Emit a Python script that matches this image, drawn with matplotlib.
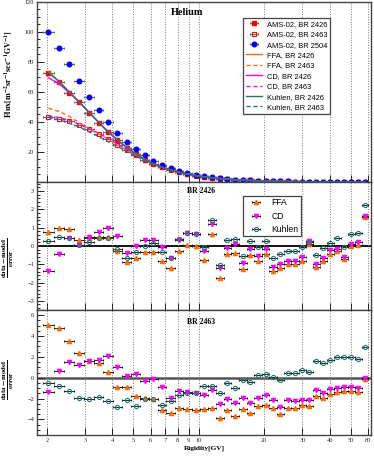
import numpy as np
import matplotlib
matplotlib.use("Agg")
import matplotlib.pyplot as plt
from matplotlib.ticker import FixedLocator, MultipleLocator, NullFormatter

plt.rcParams["font.family"] = "Liberation Serif"
plt.rcParams["mathtext.fontset"] = "stix"

# AMS-02 helium rigidity bins [GV]
edges = [1.92, 2.15, 2.40, 2.67, 2.97, 3.29, 3.64, 4.02, 4.43, 4.88, 5.37, 5.90,
         6.47, 7.09, 7.76, 8.48, 9.26, 10.1, 11.0, 12.0, 13.0, 14.1, 15.3, 16.6,
         18.0, 19.5, 21.1, 22.8, 24.7, 26.7, 28.8, 31.1, 33.5, 36.1, 38.9, 41.9,
         45.1, 48.5, 52.2, 56.1, 60.3]

# measured fluxes [m^-2 sr^-1 s^-1 GV^-1]
flux_2426 = [72.9, 66.8, 59.6, 53.2, 46.1, 39.4, 33.2, 27.8, 22.9, 18.4, 14.8, 12.2,
             10.2, 8.4, 6.8, 5.6, 4.5, 3.6, 2.9, 2.35, 1.9, 1.55, 1.25, 1.02, 0.83,
             0.68, 0.56, 0.46, 0.37, 0.30, 0.25, 0.20, 0.165, 0.135, 0.11, 0.09,
             0.073, 0.06, 0.049, 0.040]
flux_2463 = [43.3, 42.2, 40.4, 38.0, 35.0, 31.8, 28.4, 24.9, 21.4, 18.0, 14.5, 11.8,
             9.7, 7.9, 6.4, 5.2, 4.2, 3.4, 2.78, 2.26, 1.85, 1.5, 1.22, 0.99, 0.81,
             0.66, 0.54, 0.44, 0.36, 0.295, 0.24, 0.197, 0.161, 0.131, 0.107, 0.088,
             0.071, 0.058, 0.047, 0.038]
flux_2504 = [99.8, 89.6, 78.8, 67.1, 56.9, 47.8, 39.9, 32.7, 26.5, 22.1, 17.7, 14.1,
             11.2, 9.0, 7.1, 5.8, 4.7, 3.8, 3.05, 2.45, 2.0, 1.62, 1.3, 1.06, 0.86,
             0.7, 0.57, 0.47, 0.38, 0.31, 0.255, 0.21, 0.17, 0.138, 0.112, 0.092,
             0.075, 0.061, 0.05, 0.041]

# model fluxes
ffa_2426 = [73.6, 67.2, 60.2, 53.4, 46.6, 39.9, 33.7, 28.1, 23.2, 18.9, 15.2, 12.2,
            9.9, 8.0, 6.5, 5.3, 4.3, 3.5, 2.85, 2.32, 1.9, 1.55, 1.26, 1.03, 0.84,
            0.68, 0.56, 0.46, 0.37, 0.30, 0.25, 0.20, 0.165, 0.135, 0.11, 0.09,
            0.073, 0.06, 0.049, 0.04]
ffa_2463 = [49.2, 47.0, 43.8, 39.4, 35.5, 32.0, 28.4, 24.8, 21.3, 17.9, 14.8, 12.0,
            9.7, 7.9, 6.4, 5.2, 4.2, 3.4, 2.78, 2.26, 1.85, 1.5, 1.22, 0.99, 0.81,
            0.66, 0.54, 0.44, 0.36, 0.295, 0.24, 0.197, 0.161, 0.131, 0.107, 0.088,
            0.071, 0.058, 0.047, 0.038]
cd_2426 = [69.5, 65.5, 59.6, 53.2, 46.4, 39.7, 33.5, 28.0, 23.1, 18.8, 15.1, 12.1,
           9.8, 8.0, 6.5, 5.3, 4.3, 3.5, 2.85, 2.32, 1.9, 1.55, 1.26, 1.03, 0.84,
           0.68, 0.56, 0.46, 0.37, 0.30, 0.25, 0.20, 0.165, 0.135, 0.11, 0.09,
           0.073, 0.06, 0.049, 0.04]
cd_2463 = [44.0, 43.0, 41.0, 38.5, 35.5, 32.5, 29.0, 25.3, 21.7, 18.2, 15.0, 12.2,
           9.8, 8.0, 6.5, 5.3, 4.3, 3.45, 2.8, 2.28, 1.86, 1.51, 1.23, 1.0, 0.82,
           0.67, 0.55, 0.45, 0.36, 0.3, 0.245, 0.2, 0.163, 0.133, 0.108, 0.089,
           0.072, 0.059, 0.048, 0.039]
kuhlen_2426 = [73.0, 67.0, 60.0, 53.3, 46.4, 39.6, 33.4, 27.9, 23.0, 18.7, 15.0, 12.1,
               9.8, 8.0, 6.5, 5.3, 4.3, 3.5, 2.85, 2.32, 1.9, 1.55, 1.26, 1.03, 0.84,
               0.68, 0.56, 0.46, 0.37, 0.30, 0.25, 0.20, 0.165, 0.135, 0.11, 0.09,
               0.073, 0.06, 0.049, 0.04]
kuhlen_2463 = [43.0, 41.5, 39.3, 36.6, 33.5, 30.3, 27.0, 23.7, 20.4, 17.3, 14.4, 11.8,
               9.6, 7.8, 6.3, 5.1, 4.1, 3.35, 2.74, 2.23, 1.83, 1.48, 1.2, 0.98, 0.8,
               0.65, 0.53, 0.44, 0.36, 0.29, 0.24, 0.195, 0.16, 0.13, 0.106, 0.087,
               0.07, 0.057, 0.046, 0.037]

# (data-model)/error, BR 2426
res_ffa_2426 = [0.77, 0.97, 0.94, 0.31, 0.43, 0.47, 0.47, -0.27, -0.87, -0.63, -0.33,
                -0.33, -0.84, -1.19, -0.25, 0.05, 0.0, -0.77, 0.68, -1.75, -0.46,
                -0.37, -1.25, -0.5, -0.82, -0.44, -1.38, -1.22, -1.0, -1.0, -0.82,
                0.12, -1.15, -0.82, -0.44, -0.27, -0.72, 0.0, 0.08, 1.6]
res_cd_2426 = [-1.38, -0.46, 0.45, 0.04, 0.5, 0.75, 0.99, 0.52, -0.4, 0.02, 0.31,
               0.3, -0.04, -0.63, 0.31, 0.72, 0.67, -0.26, 1.22, -1.22, -0.1, 0.09,
               -0.91, -0.16, -0.53, -0.16, -1.13, -0.96, -0.8, -0.8, -0.62, 0.27,
               -1.0, -0.66, -0.22, -0.16, -0.6, 0.12, 0.2, 1.66]
res_kuhlen_2426 = [0.25, 0.47, 0.46, 0.03, 0.21, 0.46, 0.46, -0.18, -0.63, -0.33, 0.0,
                   0.18, -0.35, -0.63, 0.39, 0.72, 0.67, -0.08, 1.41, -1.04, 0.3, 0.4,
                   -0.54, 0.26, -0.08, 0.28, -0.67, -0.46, -0.26, -0.26, -0.05, 0.2,
                   -0.5, -0.13, 0.15, 0.42, -0.08, 0.63, 0.72, 2.24]

# (data-model)/error, BR 2463
res_ffa_2463 = [5.1, 4.76, 3.49, 2.36, 1.62, 1.39, 0.58, -0.93, -0.93, -1.74, -1.9,
                -2.06, -3.06, -3.35, -2.9, -2.98, -3.06, -2.96, -2.87, -3.84, -3.13,
                -3.71, -2.96, -3.39, -2.74, -2.64, -2.9, -3.45, -2.87, -2.87, -2.64,
                -2.74, -1.74, -1.9, -1.58, -1.35, -1.26, -1.26, -1.35, -0.16]
res_cd_2463 = [-1.4, 0.62, 1.47, 1.23, 1.62, 1.71, 2.1, 1.07, 0.16, 0.36, -0.29, -0.1,
               -0.93, -1.93, -1.29, -1.38, -1.42, -1.68, -1.19, -2.48, -2.03, -2.42,
               -1.93, -2.42, -1.93, -1.68, -2.16, -2.8, -2.16, -2.22, -2.1, -2.16,
               -1.19, -1.45, -1.13, -1.0, -0.93, -0.93, -1.03, 0.0]
res_kuhlen_2463 = [-0.48, -0.8, -1.29, -1.9, -2.0, -1.84, -2.23, -2.77, -2.1, -2.74,
                   -2.03, -2.03, -2.58, -2.26, -1.68, -1.51, -1.45, -0.8, -0.77, -1.45,
                   -0.48, -1.03, -0.22, -0.42, 0.23, 0.39, 0.1, -0.25, 0.45, 0.45, 0.77,
                   0.58, 1.62, 1.39, 1.71, 1.94, 2.0, 1.94, 1.81, 2.94]

xticks = [2, 3, 4, 5, 6, 7, 8, 9, 10, 20, 30, 40, 50, 60]

lo = np.array(edges[:-1])
hi = np.array(edges[1:])
rig = np.sqrt(lo * hi)
xerr = [rig - lo, hi - rig]

ORANGE = "#ff6a00"
MAGENTA = "#ff00ff"
TEAL = "#1a7a7a"
FRAME = "#444444"

fig = plt.figure(figsize=(3.74, 4.57), dpi=100)
ax1 = fig.add_axes([0.0989, 0.6018, 0.893, 0.3939])
ax2 = fig.add_axes([0.0989, 0.3217, 0.893, 0.2801], sharex=ax1)
ax3 = fig.add_axes([0.0989, 0.0481, 0.893, 0.2736], sharex=ax1)

# ---- flux panel
eb = dict(ls="none", ecolor="#666666", elinewidth=0.7, capsize=1.0, capthick=0.7,
          markersize=3.3)
ax1.errorbar(rig, flux_2426, xerr=xerr, marker="s", color="red", label="AMS-02, BR 2426",
             zorder=3, **eb)
ax1.errorbar(rig, flux_2463, xerr=xerr, marker="s", mfc="none", mec="red", color="red",
             mew=0.8, label="AMS-02, BR 2463", zorder=3, **eb)
ax1.errorbar(rig, flux_2504, xerr=xerr, marker="o", color="blue", label="AMS-02, BR 2504",
             zorder=3, **eb)
dash = (0, (3, 2))
ax1.plot(rig, ffa_2426, color=ORANGE, lw=1.0, label="FFA, BR 2426", zorder=4)
ax1.plot(rig, ffa_2463, color=ORANGE, lw=1.0, ls=dash, label="FFA, BR 2463", zorder=4)
ax1.plot(rig, cd_2426, color=MAGENTA, lw=1.0, label="CD, BR 2426", zorder=4)
ax1.plot(rig, cd_2463, color=MAGENTA, lw=1.0, ls=dash, label="CD, BR 2463", zorder=4)
ax1.plot(rig, kuhlen_2426, color=TEAL, lw=1.0, label="Kuhlen, BR 2426", zorder=4)
ax1.plot(rig, kuhlen_2463, color=TEAL, lw=1.0, ls=dash, label="Kuhlen, BR 2463", zorder=4)
ax1.set_ylim(0, 120)
ax1.set_yticks([20, 40, 60, 80, 100, 120])
ax1.yaxis.set_minor_locator(MultipleLocator(5))
ax1.set_ylabel(r"$\mathbf{Flux[m^{-2}sr^{-1}sec^{-1}GV^{-1}]}$", fontsize=5.8)
ax1.yaxis.set_label_coords(-0.069, 0.6)
ax1.text(0.45, 0.94, "Helium", transform=ax1.transAxes, fontsize=7.4,
         fontweight="bold", ha="center", va="center")
h, l = ax1.get_legend_handles_labels()
order = [6, 7, 8, 0, 1, 2, 3, 4, 5]
leg1 = ax1.legend([h[i] for i in order], [l[i] for i in order],
                  loc="upper left", bbox_to_anchor=(0.617, 0.911), borderaxespad=0,
                  fancybox=False, edgecolor=FRAME, framealpha=1,
                  prop={"family": "Liberation Sans", "size": 5.4},
                  handlelength=2.2, handletextpad=0.6, labelspacing=0.42,
                  borderpad=0.35)
leg1.get_frame().set_linewidth(0.9)

# ---- residual panels
def residuals(ax, r_ffa, r_cd, r_kuhlen):
    kw = dict(xerr=xerr, ls="none", ecolor="#222222", elinewidth=0.7, capsize=1.0,
              capthick=0.7, markersize=3.0)
    ax.errorbar(rig, r_ffa, marker="^", color=ORANGE, label="FFA", **kw)
    ax.errorbar(rig, r_cd, marker="v", color=MAGENTA, label="CD", **kw)
    ax.errorbar(rig, r_kuhlen, marker="o", mfc="none", mec=TEAL, color=TEAL,
                mew=0.8, label="Kuhlen", **kw)
    ax.set_ylabel(r"$\mathbf{\frac{data-model}{error}}$", fontsize=7.2)

residuals(ax2, res_ffa_2426, res_cd_2426, res_kuhlen_2426)
ax2.axhline(0, color="black", lw=1.3, zorder=1)
ax2.set_ylim(-3.5, 3.5)
ax2.set_yticks([-3, -2, -1, 0, 1, 2, 3])
ax2.yaxis.set_minor_locator(MultipleLocator(0.2))
ax2.yaxis.set_label_coords(-0.064, 0.41)
ax2.text(0.49, 0.93, "BR 2426", transform=ax2.transAxes, fontsize=5.6,
         fontweight="bold", ha="center", va="center")
leg2 = ax2.legend(loc="upper left", bbox_to_anchor=(0.617, 0.893), borderaxespad=0,
                  fancybox=False, edgecolor=FRAME, framealpha=1,
                  prop={"family": "Liberation Sans", "size": 6.2},
                  handlelength=2.4, handletextpad=0.6, labelspacing=0.5,
                  borderpad=0.3)
leg2.get_frame().set_linewidth(0.9)

residuals(ax3, res_ffa_2463, res_cd_2463, res_kuhlen_2463)
ax3.axhline(0, color="#555555", lw=1.8, zorder=1)
ax3.set_ylim(-5.5, 6.5)
ax3.set_yticks([-4, -2, 0, 2, 4, 6])
ax3.yaxis.set_minor_locator(MultipleLocator(0.5))
ax3.yaxis.set_label_coords(-0.064, 0.44)
ax3.text(0.49, 0.9, "BR 2463", transform=ax3.transAxes, fontsize=5.6,
         fontweight="bold", ha="center", va="center")
ax3.set_xlabel("Rigidity[GV]", fontsize=5.3, fontweight="bold", labelpad=2)

# ---- common axis style
for ax in (ax1, ax2, ax3):
    ax.set_xscale("log")
    ax.set_xlim(1.8, 62)
    ax.xaxis.set_major_locator(FixedLocator(xticks))
    ax.xaxis.set_minor_locator(FixedLocator([]))
    ax.grid(axis="x", which="major", color="#777777", ls=":", lw=0.7)
    ax.tick_params(axis="both", which="major", direction="in", length=5, width=0.7,
                   labelsize=4.6, pad=2, colors="#222222")
    ax.tick_params(axis="both", which="minor", direction="in", length=2.5, width=0.6)
    ax.tick_params(axis="x", which="both", top=False)
    for s in ax.spines.values():
        s.set_color(FRAME)
        s.set_linewidth(1.0)

for ax in (ax1, ax2):
    ax.tick_params(axis="x", labelbottom=False)
ax3.set_xticklabels([str(t) for t in xticks])
ax3.xaxis.set_minor_formatter(NullFormatter())

fig.savefig("out.png", dpi=100)
